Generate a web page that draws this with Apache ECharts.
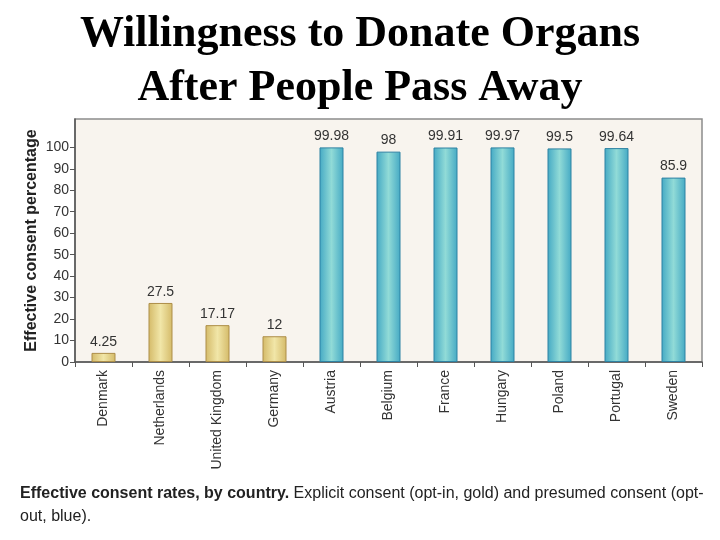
<!DOCTYPE html>
<html>
<head>
<meta charset="utf-8">
<title>Willingness to Donate Organs</title>
<script src="https://cdn.jsdelivr.net/npm/echarts@6/dist/echarts.min.js"></script>
<style>
  html, body { margin: 0; padding: 0; background: #fff; }
  #chart { width: 720px; height: 540px; }
</style>
</head>
<body>
<div id="chart"></div>
<script>
// countries, in the order they appear on the x axis
const countries = ['Denmark', 'Netherlands', 'United Kingdom', 'Germany', 'Austria',
  'Belgium', 'France', 'Hungary', 'Poland', 'Portugal', 'Sweden'];
// effective consent percentage
const consent = [4.25, 27.5, 17.17, 12, 99.98, 98, 99.91, 99.97, 99.5, 99.64, 85.9];
// explicit consent (opt-in, gold) or presumed consent (opt-out, blue)
const system = ['opt-in', 'opt-in', 'opt-in', 'opt-in', 'opt-out',
  'opt-out', 'opt-out', 'opt-out', 'opt-out', 'opt-out', 'opt-out'];
const yTicks = [0, 10, 20, 30, 40, 50, 60, 70, 80, 90, 100];

function barGradient(edge, mid) {
  return new echarts.graphic.LinearGradient(0, 0, 1, 0, [
    { offset: 0, color: edge },
    { offset: 0.5, color: mid },
    { offset: 1, color: edge }
  ]);
}

const barStyles = {
  'opt-in': { color: barGradient('#d4ba68', '#f1e6a8'), borderColor: '#ad8e48', borderWidth: 1 },
  'opt-out': { color: barGradient('#44a9c4', '#91dbd7'), borderColor: '#2d82a3', borderWidth: 1 }
};

const chart = echarts.init(document.getElementById('chart'));
chart.setOption({
  animation: false,
  title: {
    text: 'Willingness to Donate Organs\nAfter People Pass Away',
    left: 'center',
    top: 3,
    textStyle: {
      fontFamily: 'Liberation Serif',
      fontWeight: 'bold',
      fontSize: 44,
      lineHeight: 54,
      color: '#000'
    }
  },
  grid: {
    left: 75,
    right: 18,
    top: 119,
    bottom: 178,
    show: true,
    backgroundColor: '#f8f4ee',
    borderColor: '#8c8c8c',
    borderWidth: 1.5
  },
  xAxis: {
    type: 'category',
    data: countries,
    axisLine: { lineStyle: { color: '#555', width: 1.5 } },
    axisTick: { show: true, length: 5, lineStyle: { color: '#555' } },
    axisLabel: {
      rotate: 90,
      interval: 0,
      margin: 8,
      fontFamily: 'Liberation Sans',
      fontSize: 14,
      color: '#333'
    }
  },
  yAxis: {
    type: 'value',
    min: 0,
    max: 113.2,
    interval: 10,
    name: 'Effective consent percentage',
    nameLocation: 'middle',
    nameGap: 35,
    nameMoveOverlap: false,
    nameTextStyle: {
      fontFamily: 'Liberation Sans',
      fontWeight: 'bold',
      fontSize: 16,
      color: '#222'
    },
    splitLine: { show: false },
    axisLine: { show: true, lineStyle: { color: '#555', width: 1.5 } },
    axisTick: { show: true, length: 5, customValues: yTicks, lineStyle: { color: '#555' } },
    axisLabel: {
      customValues: yTicks,
      margin: 6,
      fontFamily: 'Liberation Sans',
      fontSize: 14,
      color: '#333',
      formatter: v => (v > 100 ? '' : v)
    }
  },
  series: [{
    type: 'bar',
    barWidth: 24,
    data: consent.map((v, i) => ({ value: v, itemStyle: barStyles[system[i]] })),
    label: {
      show: true,
      position: 'top',
      distance: 4,
      fontFamily: 'Liberation Sans',
      fontSize: 14,
      color: '#333'
    }
  }],
  graphic: [{
    type: 'text',
    left: 20,
    top: 482,
    style: {
      text: '{b|Effective consent rates, by country.} Explicit consent (opt-in, gold) and presumed consent (opt-\nout, blue).',
      fontFamily: 'Liberation Sans',
      fontSize: 16,
      lineHeight: 23,
      fill: '#222',
      rich: {
        b: { fontFamily: 'Liberation Sans', fontWeight: 'bold', fontSize: 16, fill: '#222' }
      }
    }
  }]
});
</script>
</body>
</html>
